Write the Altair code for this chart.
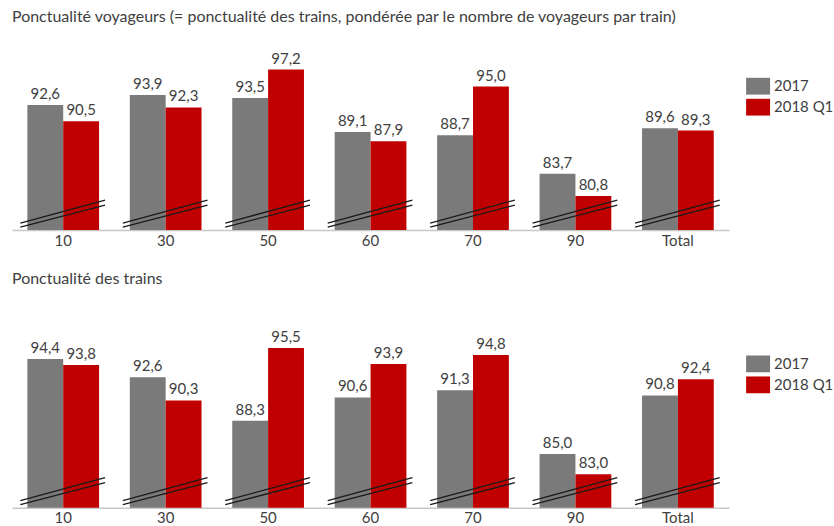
import altair as alt
import pandas as pd

categories = ["10", "30", "50", "60", "70", "90", "Total"]
series = ["2017", "2018 Q1"]

voy_2017 = [92.6, 93.9, 93.5, 89.1, 88.7, 83.7, 89.6]
voy_2018 = [90.5, 92.3, 97.2, 87.9, 95.0, 80.8, 89.3]
tr_2017 = [94.4, 92.6, 88.3, 90.6, 91.3, 85.0, 90.8]
tr_2018 = [93.8, 90.3, 95.5, 93.9, 94.8, 83.0, 92.4]

title_top = "Ponctualité voyageurs (= ponctualité des trains, pondérée par le nombre de voyageurs par train)"
title_bottom = "Ponctualité des trains"

GRAY = "#7a7a7a"
RED = "#c00000"
TEXT = "#404040"
FONT = "Lato"
W = 718


def panel(title, v17, v18, ymin, ymax, height, legend_y):
    rows = []
    for c, a, b in zip(categories, v17, v18):
        rows.append({"cat": c, "series": series[0], "value": a})
        rows.append({"cat": c, "series": series[1], "value": b})
    df = pd.DataFrame(rows)
    cats = pd.DataFrame({"cat": categories})

    x = alt.X(
        "cat:N",
        sort=categories,
        scale=alt.Scale(paddingInner=0.3, paddingOuter=0.15),
        axis=alt.Axis(
            title=None,
            labelAngle=0,
            ticks=False,
            domainColor="#c8c8c8",
            domainWidth=1.5,
            labelFont=FONT,
            labelFontSize=15,
            labelColor=TEXT,
            labelPadding=3,
        ),
    )
    xo = alt.XOffset("series:N", sort=series, scale=alt.Scale(paddingInner=0, paddingOuter=0))
    yscale = alt.Scale(domain=[ymin, ymax], zero=False, nice=False)

    base = alt.Chart(df).transform_calculate(
        label="replace(format(datum.value, '.1f'), '.', ',')"
    )
    bars = base.mark_bar().encode(
        x=x,
        xOffset=xo,
        y=alt.Y("value:Q", scale=yscale, axis=None),
        y2=alt.datum(ymin),
        color=alt.Color(
            "series:N",
            sort=series,
            scale=alt.Scale(domain=series, range=[GRAY, RED]),
            legend=alt.Legend(
                title=None,
                orient="none",
                legendX=735,
                legendY=legend_y,
                symbolType="M-1,-0.7H1V0.7H-1Z",
                symbolSize=576,
                symbolStrokeWidth=0,
                symbolOpacity=1,
                labelFont=FONT,
                labelFontSize=15,
                labelColor=TEXT,
                labelOffset=4,
                rowPadding=0,
                padding=0,
            ),
        ),
    )
    labels = base.mark_text(
        baseline="bottom", dy=-3, font=FONT, fontSize=15, color=TEXT
    ).encode(
        x=x,
        xOffset=xo,
        y=alt.Y("value:Q", scale=yscale, axis=None),
        text="label:N",
    )
    breaks = []
    for (ya, yb) in [(height - 3, height - 25), (height - 7, height - 30)]:
        breaks.append(
            alt.Chart(cats)
            .mark_rule(color="#1a1a1a", strokeWidth=1.3, xOffset=-7, x2Offset=6)
            .encode(
                x=alt.X("cat:N", sort=categories, bandPosition=0),
                x2=alt.X2("cat", bandPosition=1),
                y=alt.value(ya),
                y2=alt.value(yb),
            )
        )
    return alt.layer(bars, labels, *breaks).properties(
        width=W,
        height=height,
        title=alt.TitleParams(
            title,
            anchor="start",
            font=FONT,
            fontSize=16,
            fontWeight="normal",
            color=TEXT,
            offset=15,
        ),
    )


top = panel(title_top, voy_2017, voy_2018, 76.4, 101.0, 190, 34)
bottom = panel(title_bottom, tr_2017, tr_2018, 79.7, 100.04, 206, 50)

chart = (
    alt.vconcat(top, bottom, spacing=23)
    .resolve_scale(color="independent")
    .resolve_legend(color="independent")
    .properties(padding={"left": 12, "top": 9, "right": 0, "bottom": 0})
    .configure_view(stroke=None)
)

chart.save("out.html", embed_options={"renderer": "svg", "actions": False})
